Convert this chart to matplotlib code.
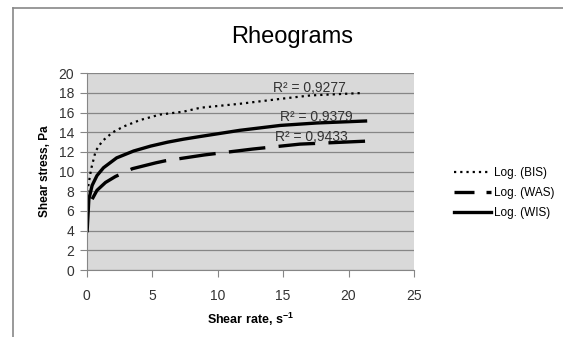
import matplotlib
matplotlib.use("Agg")
import matplotlib.pyplot as plt
from matplotlib.lines import Line2D

plt.rcParams['font.family'] = ['Liberation Sans', 'DejaVu Sans']
plt.rcParams['mathtext.default'] = 'regular'

# values
bis_x = [0.05, 0.18, 0.36, 0.7, 1.2, 2.0, 2.85, 4.1, 5.6, 7.4, 8.7, 11.7, 14.8, 17.1, 21.1]
bis_y = [7.9, 8.9, 10.3, 12.1, 13.1, 14.0, 14.6, 15.25, 15.8, 16.1, 16.5, 16.9, 17.4, 17.75, 18.0]

wis_x = [0.05, 0.18, 0.43, 0.8, 1.3, 2.3, 3.6, 4.9, 6.2, 7.4, 8.8, 11.7, 14.8, 17.6, 21.3]
wis_y = [4.0, 7.2, 8.6, 9.6, 10.4, 11.4, 12.1, 12.6, 13.0, 13.3, 13.6, 14.2, 14.7, 14.95, 15.15]

was_x = [0.43, 0.8, 1.45, 2.2, 3.5, 5.3, 6.0, 9.0, 12.7, 16.3, 21.3]
was_y = [7.2, 8.1, 8.9, 9.5, 10.3, 10.9, 11.1, 11.7, 12.3, 12.8, 13.1]

labels = ["Log. (BIS)", "Log. (WAS)", "Log. (WIS)"]
r2_text = ["R\u00b2 = 0,9277", "R\u00b2 = 0,9379", "R\u00b2 = 0,9433"]
r2_pos = [(14.25, 18.5), (14.8, 15.6), (14.4, 13.5)]

fig = plt.figure(figsize=(5.63, 3.37), dpi=100)
ax = fig.add_axes([86.5 / 563, 1 - 270 / 337, (414 - 86.5) / 563, (270 - 73.3) / 337])

ax.set_facecolor('#d9d9d9')
ax.plot(bis_x, bis_y, color='black', lw=1.6, linestyle=(0, (1, 1.8)), label=labels[0])
ax.plot(was_x, was_y, color='black', lw=2.4, linestyle=(0, (11, 4)),
        solid_capstyle='butt', label=labels[1])
ax.plot(wis_x, wis_y, color='black', lw=2.4, label=labels[2])

for t, (x, y) in zip(r2_text, r2_pos):
    ax.text(x, y, t, fontsize=10, color='#333333', va='center', ha='left')

ax.set_xlim(0, 25)
ax.set_ylim(0, 20)
ax.set_xticks(range(0, 26, 5))
ax.set_yticks(range(0, 21, 2))
ax.yaxis.grid(True, color='#868686', lw=0.9)
ax.set_axisbelow(True)
for s in ['top', 'right']:
    ax.spines[s].set_visible(False)
for s in ['left', 'bottom']:
    ax.spines[s].set_color('#868686')
ax.tick_params(axis='both', color='#868686', length=5, labelsize=10,
               labelcolor='#333333')
ax.tick_params(axis='x', pad=9)
ax.tick_params(axis='y', pad=4)

ax.set_ylabel("Shear stress, Pa", fontsize=8.5, fontweight='bold', labelpad=5)
ax.set_xlabel("Shear rate, s$^{-1}$", fontsize=9, fontweight='bold', labelpad=5)

fig.text(292 / 563, 1 - 37 / 337, "Rheograms", fontsize=17, ha='center', va='center')

leg = ax.legend(loc='center left', bbox_to_anchor=(443 / 563, 1 - 193 / 337),
                bbox_transform=fig.transFigure, frameon=False, fontsize=8.5,
                handlelength=3.2, handletextpad=0.2, labelspacing=0.7)
# Excel draws the legend sample with a shorter dash
leg.get_lines()[1].set_linestyle((0, (6, 3.6)))

# outer chart border (left and top edges only are visible)
fig.add_artist(Line2D([13 / 563, 13 / 563], [0, 1 - 8 / 337], color='#888888', lw=1.2))
fig.add_artist(Line2D([13 / 563, 1], [1 - 8 / 337, 1 - 8 / 337], color='#888888', lw=1.2))

fig.savefig("out.png", dpi=100)
